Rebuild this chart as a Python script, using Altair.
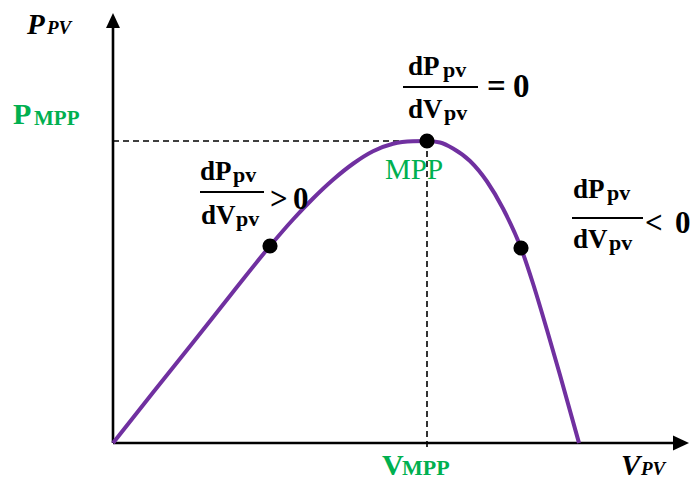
import altair as alt
import pandas as pd

# P-V characteristic of a PV module (voltage in V, power in W)
pv_voltage = [0.0, 2.0, 4.0, 6.0, 7.85, 9.0, 10.0, 11.0, 12.0, 13.0, 14.0, 15.0,
              15.7, 16.35, 17.0, 17.85, 18.7, 19.5, 20.4, 21.0, 21.7, 22.35, 23.3]
pv_power = [0.0, 10.1, 20.1, 30.2, 39.4, 44.7, 48.9, 52.65, 55.85, 58.35, 59.85, 60.35,
            60.4, 60.1, 58.9, 56.4, 52.3, 46.9, 39.0, 31.9, 22.6, 13.6, 0.0]

# operating points: left of MPP, MPP, right of MPP
marker_voltage = [7.85, 15.7, 20.4]
marker_power = [39.4, 60.4, 39.0]

v_mpp = 15.7
p_mpp = 60.4

SERIF = "Liberation Serif"
PURPLE = "#7030A0"
GREEN = "#00B050"

x_scale = alt.Scale(domain=[-5.65, 29.25], zero=False, nice=False)
y_scale = alt.Scale(domain=[-7.6, 88.6], zero=False, nice=False)

X = lambda f="V": alt.X(f"{f}:Q", scale=x_scale, axis=None)
Y = lambda f="P": alt.Y(f"{f}:Q", scale=y_scale, axis=None)

curve_df = pd.DataFrame({"V": pv_voltage, "P": pv_power})
marker_df = pd.DataFrame({"V": marker_voltage, "P": marker_power})

# axes drawn as arrows
axes_df = pd.DataFrame({
    "V": [0.0, 0.0], "P": [0.0, 0.0],
    "V2": [0.0, 28.1], "P2": [83.4, 0.0],
})
axis_lines = alt.Chart(axes_df).mark_rule(color="black", strokeWidth=2.6).encode(
    x=X(), y=Y(), x2="V2:Q", y2="P2:Q"
)
arrow_up = alt.Chart(pd.DataFrame({"V": [0.0], "P": [84.5]})).mark_point(
    shape="M0,-1L-0.93,1L0.93,1Z", size=225, filled=True, color="black", opacity=1
).encode(x=X(), y=Y())
arrow_right = alt.Chart(pd.DataFrame({"V": [28.4], "P": [0.0]})).mark_point(
    shape="M1,0L-1,-0.93L-1,0.93Z", size=256, filled=True, color="black", opacity=1
).encode(x=X(), y=Y())

# dashed guides to the maximum power point
guides_df = pd.DataFrame({
    "V": [0.0, v_mpp], "P": [p_mpp, p_mpp],
    "V2": [v_mpp, v_mpp], "P2": [p_mpp, -1.5],
})
guides = alt.Chart(guides_df).mark_rule(
    color="black", strokeWidth=1.6, strokeDash=[6, 4]
).encode(x=X(), y=Y(), x2="V2:Q", y2="P2:Q")

curve = alt.Chart(curve_df).mark_line(
    color=PURPLE, strokeWidth=4, interpolate="monotone"
).encode(x=X(), y=Y())

markers = alt.Chart(marker_df).mark_circle(
    color="black", size=230, opacity=1
).encode(x=X(), y=Y())


def text_layer(rows, color, weight, style="normal", align="left"):
    df = pd.DataFrame(rows, columns=["label", "V", "P", "fs"])
    return alt.Chart(df).mark_text(
        font=SERIF, fontWeight=weight, fontStyle=style, color=color,
        align=align, baseline="alphabetic"
    ).encode(
        x=X(), y=Y(), text="label:N", size=alt.Size("fs:Q", scale=None, legend=None)
    )


axis_titles = text_layer([
    ("P", -4.3, 81.8, 29), ("PV", -3.3, 81.8, 19),
    ("V", 25.4, -6.4, 29), ("PV", 26.4, -6.4, 19),
], "black", "bold", "italic")

mpp_titles = text_layer([
    ("P", -5.0, 63.8, 30), ("MPP", -3.95, 63.6, 21),
    ("V", 13.45, -6.4, 30), ("MPP", 14.45, -6.4, 22),
], GREEN, "bold")

mpp_label = text_layer([("MPP", 15.05, 52.8, 29)], GREEN, "normal", align="center")

fractions = text_layer([
    ("dP", 4.35, 52.6, 27), ("pv", 6.0, 52.2, 22),
    ("dV", 4.4, 43.8, 27), ("pv", 6.15, 43.4, 22),
    (">", 7.85, 46.8, 31), ("0", 9.0, 46.8, 31),
    ("dP", 14.75, 73.6, 27), ("pv", 16.5, 73.2, 22),
    ("dV", 14.75, 65.0, 27), ("pv", 16.55, 64.6, 22),
    ("=", 18.7, 69.2, 33), ("0", 20.0, 69.2, 33),
    ("dP", 23.0, 49.0, 27), ("pv", 24.7, 48.6, 22),
    ("dV", 23.0, 39.0, 27), ("pv", 24.8, 38.6, 22),
    ("<", 26.6, 42.0, 31), ("0", 28.1, 42.0, 31),
], "black", "bold")

bars_df = pd.DataFrame({
    "V": [4.35, 14.5, 22.95], "V2": [7.55, 18.25, 26.5], "P": [50.2, 71.2, 45.0],
})
fraction_bars = alt.Chart(bars_df).mark_rule(color="black", strokeWidth=2).encode(
    x=X(), x2="V2:Q", y=Y()
)

chart = alt.layer(
    guides, axis_lines, arrow_up, arrow_right, curve, markers,
    axis_titles, mpp_titles, mpp_label, fractions, fraction_bars
).properties(
    width=698, height=481, padding=0, autosize=alt.AutoSizeParams(type="none"),
    background="white"
).configure_view(stroke=None)

chart.save("out.html", embed_options={"renderer": "svg", "actions": False})
